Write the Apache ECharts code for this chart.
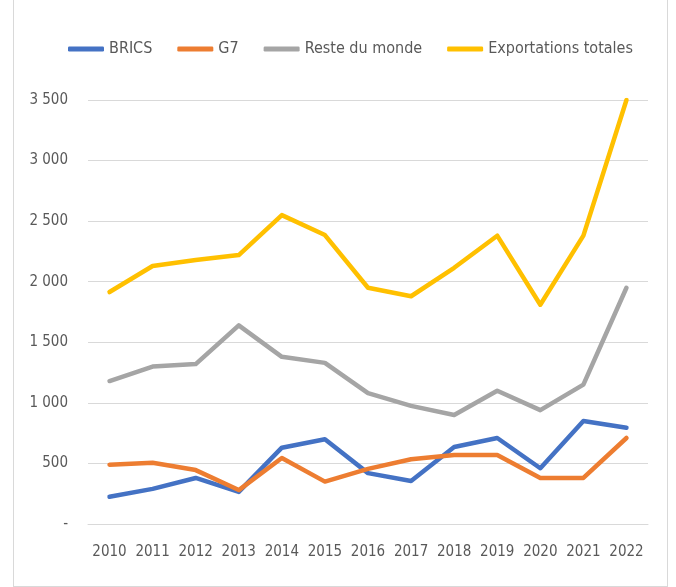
<!DOCTYPE html>
<html>
<head>
<meta charset="utf-8">
<script src="https://cdn.jsdelivr.net/npm/echarts@6/dist/echarts.min.js"></script>
<style>
  html, body { margin: 0; padding: 0; background: #fff; }
  #frame { position: absolute; left: 13px; top: -1px; width: 653px; height: 586px; border: 1px solid #d9d9d9; }
  #main { position: absolute; left: 0; top: 0; width: 676px; height: 587px; }
</style>
</head>
<body>
<div id="frame"></div>
<div id="main"></div>
<script>
var years = ['2010', '2011', '2012', '2013', '2014', '2015', '2016', '2017', '2018', '2019', '2020', '2021', '2022'];
var brics = [225, 290, 380, 265, 630, 700, 420, 355, 635, 710, 460, 850, 795];
var g7 = [490, 505, 445, 280, 545, 350, 455, 535, 570, 570, 380, 380, 710];
var resteDuMonde = [1180, 1300, 1320, 1640, 1380, 1330, 1080, 975, 900, 1100, 940, 1150, 1950];
var exportations = [1915, 2130, 2180, 2220, 2550, 2385, 1950, 1880, 2115, 2380, 1810, 2380, 3500];

var fontName = '"Liberation Sans Narrow", "DejaVu Sans Condensed", sans-serif';

function fmt(v) {
    if (v === 0) return '-';
    var s = String(v);
    return s.length > 3 ? s.slice(0, s.length - 3) + ' ' + s.slice(-3) : s;
}

function line(name, data, color) {
    return {
        name: name,
        type: 'line',
        data: data,
        symbol: 'none',
        lineStyle: { width: 4.5, color: color, cap: 'round', join: 'round' },
        itemStyle: { color: color }
    };
}

var myChart = echarts.init(document.getElementById('main'));

var option = {
    animation: false,
    legend: {
        top: 36,
        left: 63,
        itemWidth: 36,
        itemHeight: 5,
        itemGap: 25,
        icon: 'roundRect',
        textStyle: { color: '#595959', fontSize: 16, fontFamily: fontName },
        data: ['BRICS', 'G7', 'Reste du monde', 'Exportations totales']
    },
    grid: { left: 88, right: 28, top: 100, bottom: 63 },
    xAxis: {
        type: 'category',
        data: years,
        boundaryGap: true,
        axisLine: { lineStyle: { color: '#d9d9d9', width: 1 } },
        axisTick: { show: false },
        axisLabel: { color: '#595959', fontSize: 15, fontFamily: fontName, margin: 21, interval: 0 }
    },
    yAxis: {
        type: 'value',
        min: 0,
        max: 3500,
        interval: 500,
        axisLine: { show: false },
        axisTick: { show: false },
        splitLine: { lineStyle: { color: '#d9d9d9', width: 1 } },
        axisLabel: { color: '#595959', fontSize: 15, fontFamily: fontName, margin: 20, formatter: fmt }
    },
    series: [
        line('BRICS', brics, '#4472C4'),
        line('G7', g7, '#ED7D31'),
        line('Reste du monde', resteDuMonde, '#A5A5A5'),
        line('Exportations totales', exportations, '#FFC000')
    ]
};

myChart.setOption(option);
</script>
</body>
</html>
